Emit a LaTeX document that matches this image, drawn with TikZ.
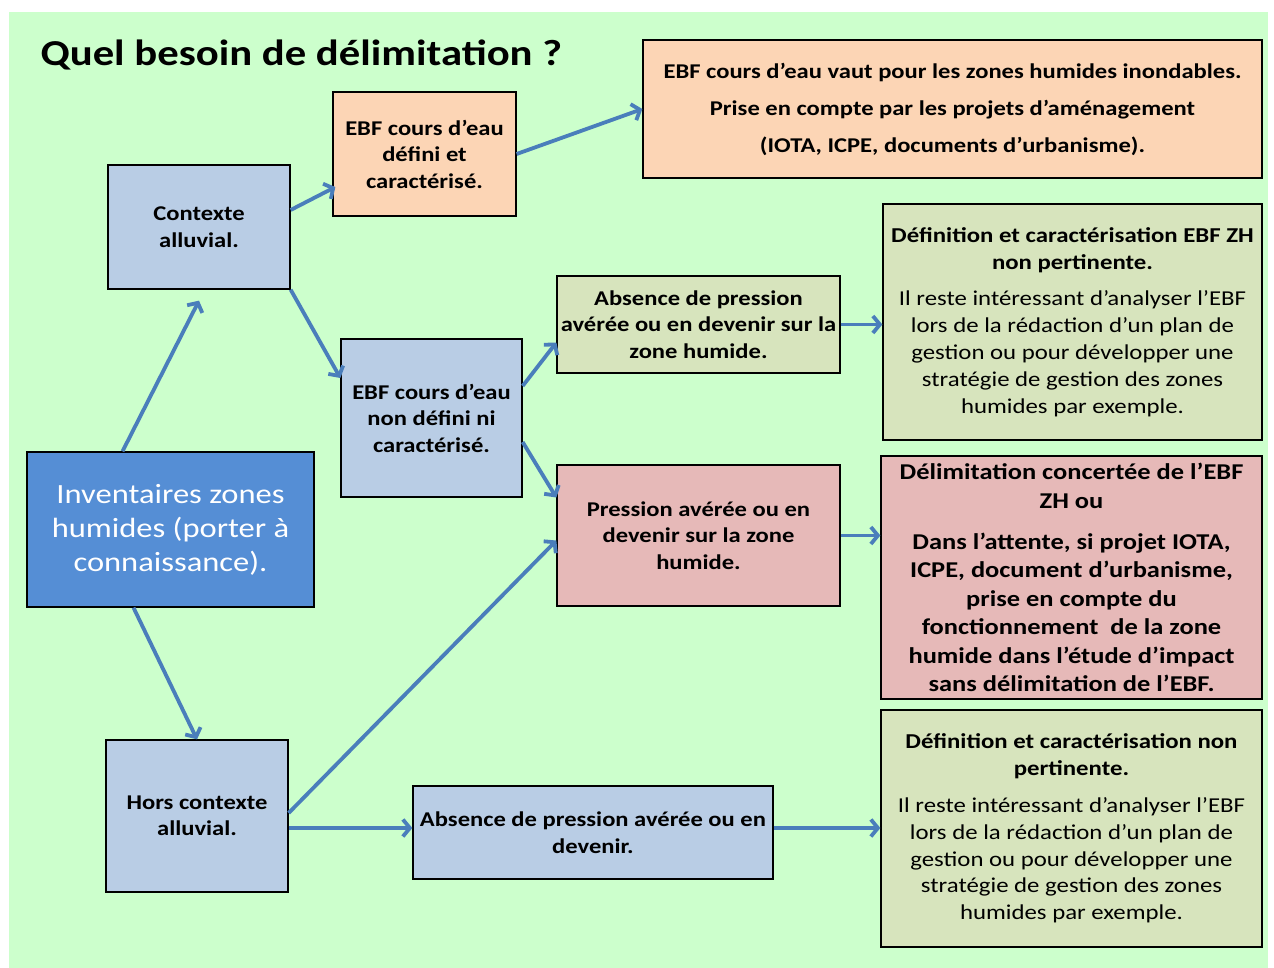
\documentclass[tikz,border=0pt]{standalone}
\usepackage{fontspec}
\setmainfont{Carlito}[FakeStretch=1.17]
\usetikzlibrary{arrows.meta,calc}
\definecolor{bggreen}{HTML}{CCFFCC}
\definecolor{lightblue}{HTML}{B9CDE5}
\definecolor{peach}{HTML}{FCD5B5}
\definecolor{olivegreen}{HTML}{D7E4BD}
\definecolor{rose}{HTML}{E6B9B8}
\definecolor{darkblue}{HTML}{558ED5}
\definecolor{arrowblue}{HTML}{4A7EBB}
\newcommand{\rg}{\mdseries}
\begin{document}
\begin{tikzpicture}[x=1pt,y=-1pt,
  box/.style={draw=black, line width=1.3pt, align=center, inner sep=0pt,
    font=\bfseries\fontsize{21}{26.5}\selectfont},
  bigbox/.style={box, font=\bfseries\fontsize{21.2}{26.8}\selectfont},
  conn/.style={draw=arrowblue, line width=3.8pt, -{Straight Barb[length=7pt,width=17pt]}}]
\useasboundingbox (0,0) rectangle (1274,968);
\fill[white] (0,0) rectangle (1274,968);
\fill[bggreen] (9,12) rectangle (1268,968);

\node[anchor=base west, font=\bfseries\fontsize{36.5}{40}\selectfont] (title) at (37,66) {Quel besoin de délimitation ?};

\node[box, fill=peach, minimum width=183pt, minimum height=124pt] (A) at (424.5,154) {EBF cours d’eau\\défini et\\caractérisé.};
\node[box, fill=peach, minimum width=619pt, minimum height=138pt, font=\bfseries\fontsize{21}{26}\selectfont] (B) at (952.5,109) {EBF cours d’eau vaut pour les zones humides inondables.\\[11pt]Prise en compte par les projets d’aménagement\\[11pt](IOTA, ICPE, documents d’urbanisme).};
\node[box, fill=lightblue, minimum width=182pt, minimum height=124pt] (ctx) at (199,227) {Contexte\\alluvial.};
\node[box, fill=olivegreen, minimum width=283pt, minimum height=97pt] (abs1) at (698.5,324.5) {Absence de pression\\avérée ou en devenir sur la\\zone humide.};
\node[bigbox, fill=olivegreen, minimum width=379pt, minimum height=236pt] (def1) at (1072.5,322) {Définition et caractérisation EBF ZH\\non pertinente.\\[10pt]\rg Il reste intéressant d’analyser l’EBF\\\rg lors de la rédaction d’un plan de\\\rg gestion ou pour développer une\\\rg stratégie de gestion des zones\\\rg humides par exemple.};
\node[box, fill=lightblue, minimum width=181pt, minimum height=158pt] (nondef) at (431.5,418) {EBF cours d’eau\\non défini ni\\caractérisé.};
\node[box, fill=darkblue, minimum width=287pt, minimum height=155pt, text=white, font=\fontsize{27.8}{34}\selectfont] (inv) at (170.5,529.5) {Inventaires zones\\humides (porter à\\connaissance).};
\node[box, fill=rose, minimum width=283pt, minimum height=141pt] (pres) at (698.5,535.5) {Pression avérée ou en\\devenir sur la zone\\humide.};
\node[box, fill=rose, minimum width=381pt, minimum height=243pt, font=\bfseries\fontsize{22.6}{28.5}\selectfont] (delim) at (1071.5,577.5) {Délimitation concertée de l’EBF\\ZH ou\\[12.5pt]Dans l’attente, si projet IOTA,\\ICPE, document d’urbanisme,\\prise en compte du\\fonctionnement\ \ de la zone\\humide dans l’étude d’impact\\sans délimitation de l’EBF.};
\node[box, fill=lightblue, minimum width=182pt, minimum height=152pt] (hors) at (197,816) {Hors contexte\\alluvial.};
\node[box, fill=lightblue, minimum width=360pt, minimum height=93pt] (abs2) at (593,832.5) {Absence de pression avérée ou en\\devenir.};
\node[bigbox, fill=olivegreen, minimum width=381pt, minimum height=237pt] (def2) at (1071.5,828.5) {Définition et caractérisation non\\pertinente.\\[10pt]\rg Il reste intéressant d’analyser l’EBF\\\rg lors de la rédaction d’un plan de\\\rg gestion ou pour développer une\\\rg stratégie de gestion des zones\\\rg humides par exemple.};

\draw[conn] ([xshift=-48pt]inv.north) -- ([yshift=-11pt]ctx.south);
\draw[conn] ([xshift=-37pt]inv.south) -- (hors.north);
\draw[conn] ([yshift=17pt]ctx.east) -- ([xshift=3pt,yshift=-33pt]A.west);
\draw[conn] (A.east) -- (B.west);
\draw[conn] (ctx.south east) -- ([yshift=40pt]nondef.west);
\draw[conn] ([yshift=32pt]nondef.east) -- ([yshift=-18pt]abs1.west);
\draw[conn] ([yshift=-24pt]nondef.east) -- ([yshift=38pt]pres.west);
\draw[conn] (abs1.east) -- (abs1.east -| def1.west);
\draw[conn] (pres.east) -- (pres.east -| delim.west);
\draw[conn] ([yshift=3pt]hors.east) -- ([yshift=-5pt]pres.west);
\draw[conn] ([yshift=-12pt]hors.east) -- ([yshift=4.5pt]abs2.west);
\draw[conn] ([yshift=4.5pt]abs2.east) -- ([yshift=4.5pt]abs2.east -| def2.west);
\end{tikzpicture}
\end{document}
